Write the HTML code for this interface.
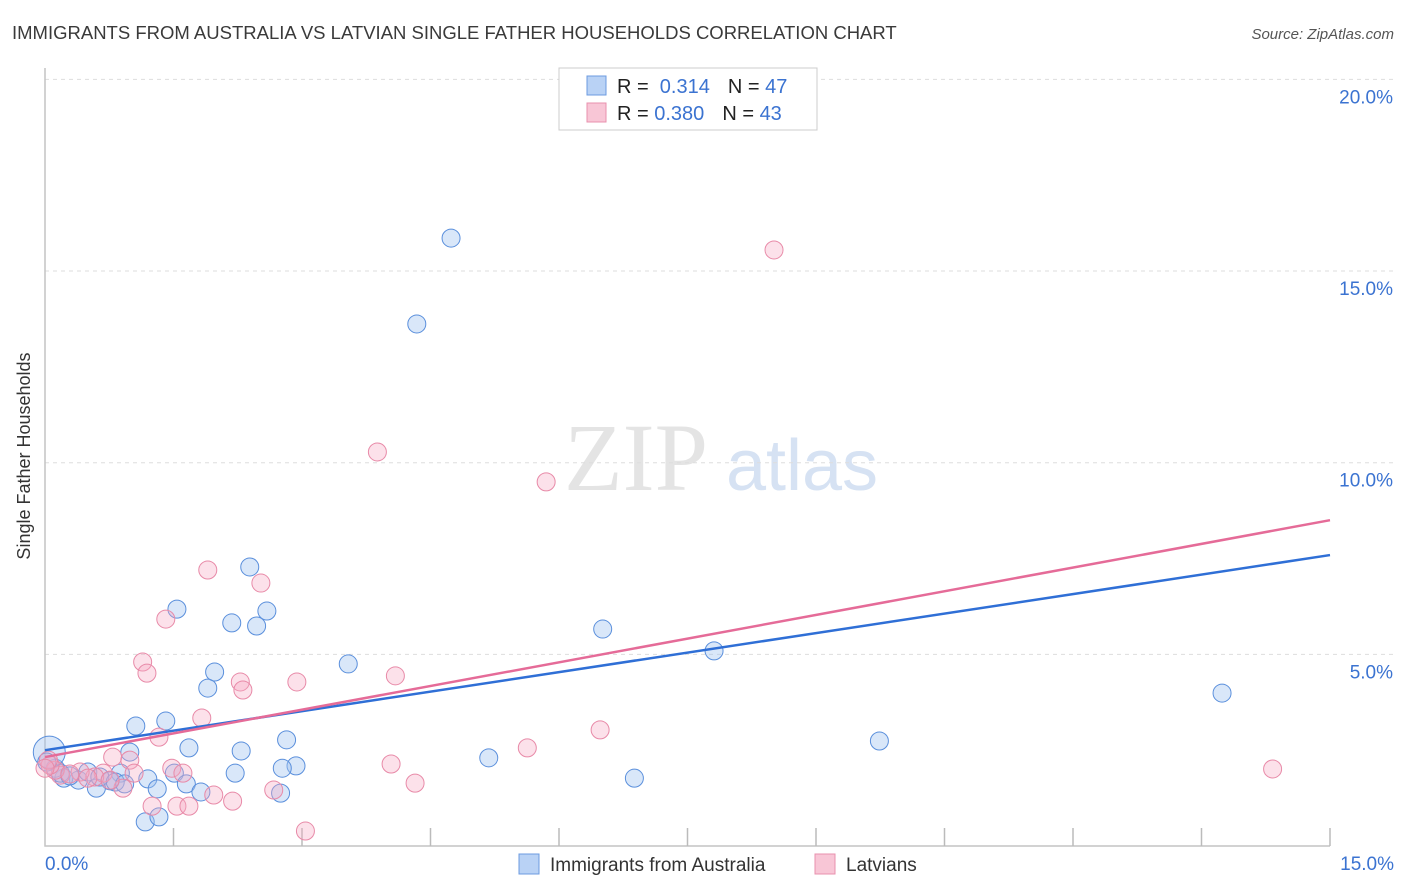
<!DOCTYPE html>
<html><head><meta charset="utf-8"><style>
body{margin:0;background:#fff;font-family:"Liberation Sans",sans-serif;}
svg{display:block}
</style></head><body>
<svg id="chart" width="1406" height="892">
<text x="12" y="39" font-size="18.5" fill="#3a3a3a">IMMIGRANTS FROM AUSTRALIA VS LATVIAN SINGLE FATHER HOUSEHOLDS CORRELATION CHART</text>
<text x="1394" y="39" font-size="15" fill="#555" font-style="italic" text-anchor="end">Source: ZipAtlas.com</text>
<text x="30" y="456" font-size="18" fill="#333" text-anchor="middle" transform="rotate(-90 30 456)">Single Father Households</text>
<g><text x="636" y="490" font-size="96" fill="#e4e4e4" text-anchor="middle" font-family="Liberation Serif,serif">ZIP</text><text x="802" y="490" font-size="72" fill="#d6e2f3" text-anchor="middle">atlas</text></g>
<g id="grid"></g><g id="axes"></g><g id="marks"></g><g id="trend"></g>
<g>
<rect x="559" y="68" width="258" height="62" fill="#fff" stroke="#ccc"/>
<rect x="587" y="76" width="19" height="19" fill="#b9d2f5" stroke="#6c9be0"/>
<rect x="587" y="103" width="19" height="19" fill="#f8c6d6" stroke="#e890ae"/>
<text x="617" y="93" font-size="20" fill="#222">R = <tspan fill="#3b73d1">&#160;0.314</tspan><tspan dx="18">N = </tspan><tspan fill="#3b73d1">47</tspan></text>
<text x="617" y="120" font-size="20" fill="#222">R = <tspan fill="#3b73d1">0.380</tspan><tspan dx="18">N = </tspan><tspan fill="#3b73d1">43</tspan></text>
</g>
<g>
<rect x="519" y="854" width="20" height="20" fill="#b9d2f5" stroke="#6c9be0"/>
<text x="550" y="871" font-size="19" fill="#333">Immigrants from Australia</text>
<rect x="815" y="854" width="20" height="20" fill="#f8c6d6" stroke="#e890ae"/>
<text x="846" y="871" font-size="19" fill="#333">Latvians</text>
</g>
</svg>
<script>
const blueX=[4.74,4.34,2.39,1.54,2.59,2.18,2.47,6.51,7.81,3.54,1.98,1.90,13.74,1.06,1.41,2.82,9.74,1.68,2.29,0.99,5.18,2.93,2.77,2.22,1.51,0.88,6.88,1.20,1.65,0.76,1.31,1.82,2.75,0.60,0.39,0.22,0.50,0.12,0.18,0.29,0.64,0.82,0.93,1.17,1.33,0.05,0.02];
const blueY=[15.86,13.62,7.28,6.18,6.13,5.82,5.74,5.66,5.09,4.75,4.54,4.12,3.99,3.13,3.26,2.77,2.74,2.56,2.48,2.45,2.30,2.09,2.03,1.90,1.90,1.90,1.77,1.75,1.62,1.70,1.49,1.41,1.38,1.51,1.72,1.77,1.93,2.03,1.90,1.83,1.80,1.67,1.62,0.63,0.76,2.45,2.19];
const pinkX=[8.51,3.88,5.85,1.90,2.52,1.41,1.14,1.19,4.09,2.94,2.28,2.31,1.83,6.48,1.33,5.63,0.79,0.99,14.33,4.04,1.48,1.61,1.04,4.32,2.67,1.97,2.19,1.25,1.54,1.68,3.04,0.91,0.68,0.58,0.41,0.18,0.12,0.29,0.50,0.76,0.06,0.04,0.00];
const pinkY=[15.55,10.28,9.50,7.20,6.86,5.92,4.80,4.51,4.44,4.28,4.28,4.07,3.34,3.03,2.84,2.56,2.32,2.24,2.01,2.14,2.03,1.90,1.90,1.64,1.46,1.33,1.17,1.04,1.04,1.04,0.39,1.51,1.90,1.80,1.93,1.85,1.98,1.88,1.77,1.72,2.11,2.24,2.03];
const blueTrend=[2.5,7.59];
const pinkTrend=[2.32,8.5];
const yTicks=[5,10,15,20];
const xTickLabels=["0.0%","15.0%"];
const NS="http://www.w3.org/2000/svg";
const X=v=>45+v/15*1285, Y=v=>846-v*38.33;
function mk(t,a,p){const e=document.createElementNS(NS,t);for(const k in a)e.setAttribute(k,a[k]);document.getElementById(p).appendChild(e);return e;}
yTicks.forEach(t=>{
 const l=mk('line',{x1:45,x2:1394,y1:Y(t),y2:Y(t),stroke:'#ddd','stroke-dasharray':'4,4'},'grid');
 
 
 const tx=mk('text',{x:1393,y:Y(t)+24,'font-size':19,fill:'#3b73d1','text-anchor':'end'},'grid');
 tx.textContent=t.toFixed(1)+'%';
 
 
});
const ax=mk('path',{d:'M45 68V846H1330',fill:'none',stroke:'#c4c4c4','stroke-width':1.5},'axes');


for(let i=1;i<=10;i++){const t=mk('line',{x1:45+i*128.5,x2:45+i*128.5,y1:828,y2:846,stroke:'#bbb','stroke-width':1.5},'axes');
 
 }
const xl0=mk('text',{x:45,y:870,'font-size':19,fill:'#3b73d1'},'axes');xl0.textContent=xTickLabels[0];


const xl1=mk('text',{x:1394,y:870,'font-size':19,fill:'#3b73d1','text-anchor':'end'},'axes');xl1.textContent=xTickLabels[1];


blueX.forEach((x,i)=>{const c=mk('circle',{cx:X(x),cy:Y(blueY[i]),r:i==45?16:9,fill:'rgba(160,195,240,0.4)',stroke:'#5a8fdc','stroke-width':1},'marks');
 
 });
pinkX.forEach((x,i)=>{const c=mk('circle',{cx:X(x),cy:Y(pinkY[i]),r:9,fill:'rgba(245,170,195,0.35)',stroke:'#e88aa8','stroke-width':1},'marks');
 
 });
const tb=mk('line',{x1:X(0),y1:Y(blueTrend[0]),x2:X(15),y2:Y(blueTrend[1]),stroke:'#2f6fd6','stroke-width':2.5},'trend');


const tp=mk('line',{x1:X(0),y1:Y(pinkTrend[0]),x2:X(15),y2:Y(pinkTrend[1]),stroke:'#e56b98','stroke-width':2.5},'trend');


</script>
</body></html>
